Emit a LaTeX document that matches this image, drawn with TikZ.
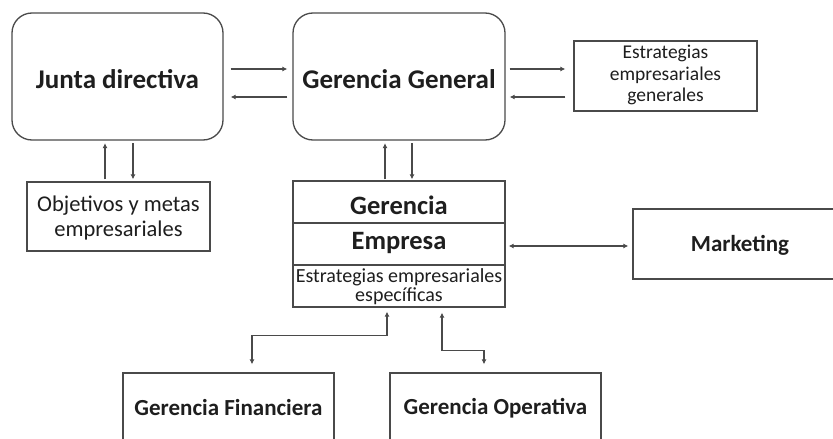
\documentclass[tikz,border=0pt]{standalone}
\usepackage{fontspec}
\setmainfont{Carlito}
\usetikzlibrary{arrows.meta,calc}
\definecolor{ln}{HTML}{4A4A4A}
\definecolor{tx}{HTML}{1E1E1E}
\tikzset{
  rbox/.style={draw=ln,line width=1.3pt,rounded corners=20pt,inner sep=0pt},
  sbox/.style={draw=ln,line width=1.3pt,inner sep=0pt},
  big/.style={font=\fontsize{27}{30}\selectfont\bfseries,text=tx},
  mid/.style={font=\fontsize{23}{26}\selectfont\bfseries,text=tx},
  small/.style={text=tx,align=center},
  arr/.style={draw=ln,line width=1.2pt,-{Latex[length=5pt,width=5pt]}},
  darr/.style={draw=ln,line width=1.2pt,{Latex[length=5pt,width=5pt]}-{Latex[length=5pt,width=5pt]}}
}
\begin{document}
\begin{tikzpicture}[x=1pt,y=-1pt]
\clip (0,0) rectangle (833,439);
\fill[white] (0,0) rectangle (833,439);
% boxes
\node[rbox,minimum width=211pt,minimum height=127pt] (junta) at (117.5,76.5) {};
\node[big] (juntat) at (117.5,79) {Junta directiva};
\node[rbox,minimum width=212pt,minimum height=127pt] (gg) at (399,76.5) {};
\node[big] (ggt) at (399,79) {Gerencia General};
\node[sbox,minimum width=183pt,minimum height=70pt] (estr) at (665.5,76) {};
\node[small,font=\fontsize{19.5}{21.5}\selectfont] (estrt) at (665.5,75) {Estrategias\\empresariales\\generales};
\node[sbox,minimum width=183pt,minimum height=69pt] (obj) at (118.5,216.5) {};
\node[small,font=\fontsize{22.5}{25}\selectfont] (objt) at (118.5,218) {Objetivos y metas\\empresariales};
\node[sbox,minimum width=212pt,minimum height=126pt] (ger) at (399,244) {};
\node[big,font=\fontsize{26.5}{30}\selectfont\bfseries] (gert1) at (399,205) {Gerencia};
\node[big,font=\fontsize{26.5}{30}\selectfont\bfseries] (gert2) at (399,243) {Empresa};
\node[small,font=\fontsize{20}{19}\selectfont] (gert3) at (399,287) {Estrategias empresariales\\específicas};
\coordinate (d1) at (293,223);
\coordinate (d2) at (293,265);
\draw[draw=ln,line width=1.3pt] (d1) -- (d1 -| ger.east);
\draw[draw=ln,line width=1.3pt] (d2) -- (d2 -| ger.east);
\node[sbox,minimum width=220pt,minimum height=70pt] (mkt) at (743,244) {};
\node[mid] (mktt) at (740,245) {Marketing};
\node[sbox,minimum width=211pt,minimum height=90pt] (fin) at (228.5,418) {};
\node[mid] (fint) at (228.5,408) {Gerencia Financiera};
\node[sbox,minimum width=211pt,minimum height=90pt] (op) at (495.5,418) {};
\node[mid] (opt) at (495.5,408) {Gerencia Operativa};
% connectors
\draw[arr] ([xshift=7pt,yshift=7.5pt]junta.east) -- ([xshift=-5pt,yshift=7.5pt]gg.west);
\draw[arr] ([xshift=-5pt,yshift=-20.5pt]gg.west) -- ([xshift=7pt,yshift=-20.5pt]junta.east);
\draw[arr] ([xshift=4pt,yshift=7.5pt]gg.east) -- ([xshift=-8pt,yshift=7.5pt]gg.east -| estr.west);
\draw[arr] ([xshift=-8pt,yshift=-20.5pt]gg.east -| estr.west) -- ([xshift=4pt,yshift=-20.5pt]gg.east);
\draw[arr] ([xshift=-13.5pt,yshift=2pt]obj.north) -- ([xshift=-12.5pt,yshift=-2.5pt]junta.south);
\draw[arr] ([xshift=15.5pt,yshift=-2.5pt]junta.south) -- ([xshift=14.5pt,yshift=2pt]obj.north);
\draw[arr] ([xshift=-14pt,yshift=1pt]ger.north) -- ([xshift=-14pt,yshift=-2.5pt]gg.south);
\draw[arr] ([xshift=13pt,yshift=-2.5pt]gg.south) -- ([xshift=13pt,yshift=1pt]ger.north);
\draw[darr] ([xshift=3pt,yshift=-2pt]ger.east) -- ([xshift=-4pt,yshift=-2pt]ger.east -| mkt.west);
\draw[darr] ([xshift=-12pt,yshift=-4pt]ger.south) -- ++(0,24) -| ([xshift=23.5pt,yshift=8pt]fin.north);
\draw[darr] ([xshift=43pt,yshift=-5pt]ger.south) -- ++(0,38) -| ([xshift=-11.5pt,yshift=8pt]op.north);
\end{tikzpicture}
\end{document}
